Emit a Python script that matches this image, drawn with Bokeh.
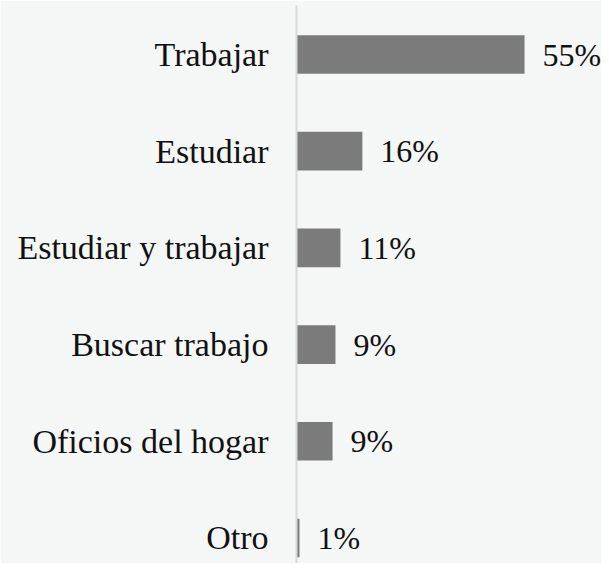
from bokeh.plotting import figure
from bokeh.models import Range1d, FixedTicker, ColumnDataSource
from bokeh.core.properties import value
from bokeh.embed import file_html
from bokeh.resources import INLINE

categories = ["Trabajar", "Estudiar", "Estudiar y trabajar", "Buscar trabajo", "Oficios del hogar", "Otro"]
values = [55.0, 15.8, 10.5, 9.3, 8.6, 0.6]
value_labels = ["55%", "16%", "11%", "9%", "9%", "1%"]

BG = "#f5f7f7"
FONT = "Liberation Serif"

positions = list(range(len(categories)))
src = ColumnDataSource(dict(y=positions, v=values, lab=value_labels))

p = figure(width=601, height=563, output_backend="svg", toolbar_location=None,
           x_range=Range1d(-0.12, 73.6), y_range=Range1d(5.264, -0.507),
           min_border_left=296, min_border_right=0, min_border_top=5, min_border_bottom=0)
p.background_fill_color = BG
p.border_fill_color = BG
p.outline_line_color = None
p.xgrid.visible = False
p.ygrid.visible = False
p.xaxis.visible = False

p.hbar(y="y", right="v", left=0, height=0.4, source=src, fill_color="#7b7b7b", line_color=None)
p.text(x="v", y="y", text="lab", source=src, x_offset=18, text_align="left", text_baseline="middle",
       text_font=value(FONT), text_font_size="32px", text_color="#111111")

ax = p.yaxis[0]
ax.ticker = FixedTicker(ticks=positions)
ax.major_label_overrides = {i: c for i, c in zip(positions, categories)}
ax.major_tick_line_color = None
ax.minor_tick_line_color = None
ax.major_tick_out = 0
ax.major_tick_in = 0
ax.axis_line_color = "#d9d9d9"
ax.axis_line_width = 2
ax.major_label_standoff = 28
ax.major_label_text_font = FONT
ax.major_label_text_font_size = "34px"
ax.major_label_text_color = "#111111"

html = file_html(p, INLINE)
html = html.replace("<body>", '<body style="background:%s">' % BG, 1)
open("out.html", "w").write(html)
